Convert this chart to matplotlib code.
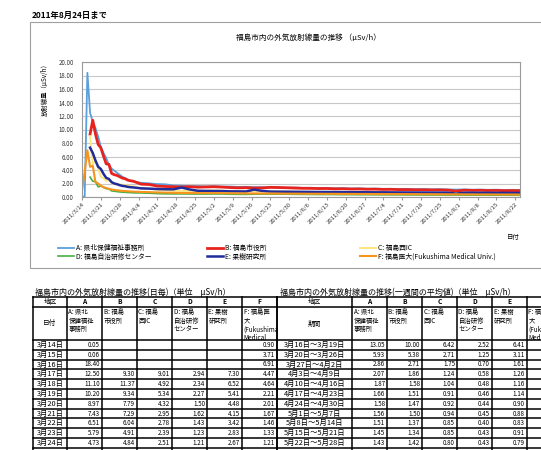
import matplotlib
matplotlib.use("Agg")
import matplotlib.pyplot as plt
import matplotlib.dates as mdates
from matplotlib.patches import Rectangle
from matplotlib.ticker import FuncFormatter, FormatStrFormatter
import numpy as np
import pandas as pd

plt.rcParams['font.family'] = ['Noto Sans CJK JP', 'DejaVu Sans']

W, H = 541, 450

# ---- daily table, 3/14 - 3/24 (also the start of the chart) ----
day_dates = ["3/14", "3/15", "3/16", "3/17", "3/18", "3/19",
             "3/20", "3/21", "3/22", "3/23", "3/24"]
day_labels = ["3月14日", "3月15日", "3月16日", "3月17日", "3月18日", "3月19日",
              "3月20日", "3月21日", "3月22日", "3月23日", "3月24日"]
day_a = [0.05, 0.06, 18.40, 12.50, 11.10, 10.20, 8.97, 7.43, 6.51, 5.79, 4.73]
day_b = [None, None, None, 9.30, 11.37, 9.34, 7.79, 7.29, 6.04, 4.91, 4.84]
day_c = [None, None, None, 9.01, 4.92, 5.34, 4.32, 2.95, 2.78, 2.39, 2.51]
day_d = [None, None, None, 2.94, 2.34, 2.27, 1.50, 1.62, 1.43, 1.23, 1.21]
day_e = [None, None, None, 7.30, 6.52, 5.41, 4.48, 4.15, 3.42, 2.83, 2.67]
day_f = [0.90, 3.71, 6.91, 4.47, 4.64, 2.21, 2.01, 1.67, 1.46, 1.33, 1.21]

# ---- weekly averages table ----
week_labels = ["3月16日～3月19日", "3月20日～3月26日", "3月27日～4月2日",
               "4月3日～4月9日", "4月10日～4月16日", "4月17日～4月23日",
               "4月24日～4月30日", "5月1日～5月7日", "5月8日～5月14日",
               "5月15日～5月21日", "5月22日～5月28日"]
week_a = [13.05, 5.93, 2.86, 2.07, 1.87, 1.66, 1.58, 1.56, 1.51, 1.45, 1.43]
week_b = [10.00, 5.38, 2.71, 1.86, 1.58, 1.51, 1.47, 1.50, 1.37, 1.34, 1.42]
week_c = [6.42, 2.71, 1.75, 1.24, 1.04, 0.91, 0.92, 0.94, 0.85, 0.85, 0.80]
week_d = [2.52, 1.25, 0.70, 0.58, 0.48, 0.46, 0.44, 0.45, 0.40, 0.43, 0.43]
week_e = [6.41, 3.11, 1.61, 1.26, 1.16, 1.14, 0.90, 0.88, 0.83, 0.91, 0.79]

# ---- rest of the chart ----
later_dates = ["3/25", "3/26", "3/27", "3/28", "3/29", "3/30", "3/31", "4/1", "4/2",
               "4/5", "4/8", "4/11", "4/14", "4/17", "4/20", "4/23", "4/26", "4/29",
               "5/2", "5/5", "5/8", "5/11", "5/14", "5/17", "5/20", "5/23", "5/26", "5/29",
               "6/1", "6/4", "6/7", "6/10", "6/13", "6/16", "6/19", "6/22", "6/25", "6/28",
               "7/1", "7/4", "7/7", "7/10", "7/13", "7/16", "7/19", "7/22", "7/25", "7/28", "7/31",
               "8/3", "8/6", "8/9", "8/12", "8/15", "8/18", "8/21", "8/24"]
later_a = [4.20, 3.90, 3.60, 3.30, 3.00, 2.80, 2.60, 2.40, 2.30,
           2.10, 2.02, 1.92, 1.88, 1.70, 1.68, 1.60, 1.62, 1.55,
           1.60, 1.54, 1.55, 1.49, 1.51, 1.45, 1.46, 1.41, 1.44, 1.38,
           1.40, 1.35, 1.37, 1.32, 1.33, 1.29, 1.31, 1.26, 1.28, 1.23,
           1.25, 1.21, 1.22, 1.18, 1.20, 1.16, 1.17, 1.14, 1.16, 1.12, 1.10,
           1.12, 1.08, 1.10, 1.06, 1.08, 1.04, 1.06, 1.03]
later_b = [3.50, 3.30, 3.20, 3.00, 2.80, 2.70, 2.50, 2.40, 2.35,
           1.90, 1.85, 1.62, 1.56, 1.52, 1.48, 1.53, 1.46, 1.49,
           1.52, 1.47, 1.40, 1.36, 1.38, 1.33, 1.35, 1.43, 1.40, 1.37,
           1.33, 1.29, 1.28, 1.25, 1.26, 1.21, 1.22, 1.18, 1.19, 1.15,
           1.16, 1.12, 1.13, 1.09, 1.10, 1.06, 1.07, 1.04, 1.05, 1.02, 0.88,
           1.01, 0.98, 0.99, 0.96, 0.97, 0.94, 0.95, 0.93]
later_c = [2.10, 1.90, 1.95, 1.85, 1.80, 1.75, 1.70, 1.60, 1.60,
           1.25, 1.22, 1.08, 1.02, 0.93, 0.91, 0.90, 0.92, 0.92,
           0.95, 0.93, 0.86, 0.85, 0.84, 0.85, 0.84, 0.81, 0.80, 0.79,
           0.77, 0.76, 0.75, 0.74, 0.73, 0.72, 0.71, 0.70, 0.69, 0.68,
           0.67, 0.66, 0.65, 0.64, 0.63, 0.63, 0.62, 0.61, 0.60, 0.60, 0.59,
           0.58, 0.58, 0.57, 0.56, 0.56, 0.55, 0.55, 0.54]
later_d = [0.90, 0.86, 0.80, 0.75, 0.72, 0.70, 0.67, 0.65, 0.62,
           0.60, 0.56, 0.50, 0.47, 0.46, 0.46, 0.45, 0.44, 0.44,
           0.45, 0.45, 0.41, 0.40, 0.39, 0.43, 0.43, 0.43, 0.42, 0.42,
           0.40, 0.39, 0.38, 0.37, 0.37, 0.36, 0.35, 0.35, 0.34, 0.34,
           0.33, 0.33, 0.32, 0.32, 0.31, 0.31, 0.30, 0.30, 0.30, 0.29, 0.29,
           0.28, 0.28, 0.28, 0.27, 0.27, 0.27, 0.26, 0.26]
later_e = [2.20, 2.00, 1.90, 1.75, 1.65, 1.60, 1.50, 1.45, 1.42,
           1.28, 1.24, 1.18, 1.15, 1.14, 1.40, 1.12, 0.92, 0.90,
           0.89, 0.88, 0.84, 0.83, 0.82, 1.10, 0.90, 0.80, 0.79, 0.78,
           0.77, 0.76, 0.75, 0.74, 0.74, 0.73, 0.72, 0.71, 0.71, 0.70,
           0.69, 0.69, 0.68, 0.67, 0.67, 0.66, 0.66, 0.65, 0.65, 0.64, 0.50,
           0.63, 0.63, 0.62, 0.62, 0.61, 0.61, 0.60, 0.60]
later_f = [1.10, 1.05, 1.00, 0.95, 0.90, 0.88, 0.85, 0.82, 0.80,
           0.75, 0.72, 0.68, 0.65, 0.62, 0.60, 0.59, 0.58, 0.57,
           0.58, 0.57, 0.55, 0.54, 0.53, 0.53, 0.52, 0.52, 0.51, 0.50,
           0.50, 0.49, 0.48, 0.48, 0.47, 0.47, 0.46, 0.46, 0.45, 0.45,
           0.44, 0.44, 0.43, 0.43, 0.42, 0.42, 0.41, 0.41, 0.40, 0.40, 0.40,
           0.39, 0.39, 0.38, 0.38, 0.37, 0.37, 0.37, 0.36]

site_letters = ["A", "B", "C", "D", "E", "F"]
site_names = ["A: 県北保健福祉事務所", "B: 福島市役所", "C: 福島西IC",
              "D: 福島自治研修センター", "E: 果樹研究所",
              "F: 福島医大(Fukushima Medical Univ.)"]
site_heads = ["A: 県北\n保健福祉\n事務所", "B: 福島\n市役所", "C: 福島\n西IC",
              "D: 福島\n自治研修\nセンター", "E: 果樹\n研究所",
              "F: 福島医\n大\n(Fukushima\nMedical"]
site_colors = ["#5AA0DC", "#E8231E", "#FFE680", "#45B045", "#202C9A", "#F7941D"]
site_widths = [1.3, 2.0, 1.4, 1.2, 1.8, 1.5]

fig = plt.figure(figsize=(W / 100, H / 100), dpi=100)

# overlay in pixel coordinates for frame, titles and tables
ov = fig.add_axes([0, 0, 1, 1])
ov.set_xlim(0, W)
ov.set_ylim(H, 0)
ov.axis('off')

ov.text(32, 15, "2011年8月24日まで", fontsize=6, fontweight='bold', ha='left', va='center')
ov.add_patch(Rectangle((30, 22), 530, 246, fill=False, edgecolor='#a0a0a0', lw=0.8))
ov.text(308, 38, "福島市内の外気放射線量の推移 （μSv/h）", fontsize=5.5, ha='center', va='center')
ov.text(45, 88, "放射線量（μSv/h）", rotation=90, fontsize=4.6, ha='center', va='center')
ov.text(520, 237, "日付", fontsize=4.6, ha='right', va='center')

# ---- line chart ----
ax = fig.add_axes([82 / W, 1 - 197 / H, 438 / W, 135 / H])
dates = pd.to_datetime(["2011/" + s for s in day_dates + later_dates])
series = [day_a + later_a, day_b + later_b, day_c + later_c,
          day_d + later_d, day_e + later_e, day_f + later_f]
handles = []
for vals, name, color, lw in zip(series, site_names, site_colors, site_widths):
    h, = ax.plot(dates, np.array(vals, dtype=float), color=color, lw=lw, label=name)
    handles.append(h)

ax.set_xlim(pd.Timestamp("2011-03-14"), pd.Timestamp("2011-08-23 18:00"))
ax.set_ylim(0, 20)
ax.set_yticks(range(0, 21, 2))
ax.yaxis.set_major_formatter(FormatStrFormatter('%.2f'))
ax.set_xticks(pd.date_range("2011-03-14", "2011-08-22", freq="7D"))


def date_fmt(v, pos):
    d = mdates.num2date(v)
    return f"{d.year}/{d.month}/{d.day}"


ax.xaxis.set_major_formatter(FuncFormatter(date_fmt))
ax.tick_params(axis='y', length=0, pad=6, labelsize=4.4, labelcolor='#333333')
ax.tick_params(axis='x', length=2, pad=1.5, labelsize=4.3, labelcolor='#333333', color='#999999')
plt.setp(ax.get_xticklabels(), rotation=45, ha='right', rotation_mode='anchor')
ax.yaxis.grid(True, color='#c8c8c8', lw=0.8)
ax.set_axisbelow(True)
for sp in ax.spines.values():
    sp.set_color('#9a9a9a')
    sp.set_linewidth(0.8)

# legend: one entry per slot, rows A B C / D E F
legend_x = [58, 207, 360, 58, 207, 360]
legend_y = [248, 248, 248, 256.5, 256.5, 256.5]
for i, h in enumerate(handles):
    fig.legend(handles=[h], loc='center left',
               bbox_to_anchor=(legend_x[i] / W, 1 - legend_y[i] / H),
               frameon=False, fontsize=4.9, handlelength=2.3, handletextpad=0.35,
               borderpad=0, borderaxespad=0)

# ---- tables ----
row_top, row_h1, row_h2, row_h = 297, 307, 340, 9.8
n_rows = len(day_labels)
row_edges = [row_top, row_h1, row_h2] + [row_h2 + row_h * (i + 1) for i in range(n_rows + 1)]


def draw_table(x_edges, title, title_x, first_head, labels, columns, label_fs):
    ov.text(title_x, 292, title, fontsize=5.8, ha='left', va='center')
    bottom = row_edges[-1]
    for y in row_edges:
        ov.plot([x_edges[0], x_edges[-1]], [y, y], color='black', lw=1.1)
    for x in x_edges:
        ov.plot([x, x], [row_top, bottom], color='black', lw=1.1)
    c0 = (x_edges[0] + x_edges[1]) / 2
    ov.text(c0, (row_top + row_h1) / 2, "地区", fontsize=4.8, ha='center', va='center')
    ov.text(c0, (row_h1 + row_h2) / 2, first_head, fontsize=4.8, ha='center', va='center')
    for i, (letter, head) in enumerate(zip(site_letters, site_heads)):
        x0, x1 = x_edges[i + 1], min(x_edges[i + 2], W)
        if (x0 + x_edges[i + 2]) / 2 < W:
            ov.text((x0 + x_edges[i + 2]) / 2, (row_top + row_h1) / 2, letter,
                    fontsize=4.8, fontweight='bold', ha='center', va='center')
        t = ov.text(x0 + 1.5, row_h1 + 1.2, head, fontsize=4.6, linespacing=1.08,
                    ha='left', va='top')
        t.set_clip_path(Rectangle((x0, row_h1), x1 - x0, row_h2 - row_h1,
                                  transform=ov.transData))
    for r, lab in enumerate(labels):
        yc = row_h2 + row_h * (r + 0.5)
        ov.text(c0, yc, lab, fontsize=label_fs, ha='center', va='center')
        for c, col in enumerate(columns):
            if col[r] is None:
                continue
            ov.text(x_edges[c + 2] - 2, yc, f"{col[r]:.2f}", fontsize=4.5,
                    ha='right', va='center')


draw_table([33, 67, 102, 137, 172, 207, 242, 277],
           "福島市内の外気放射線量の推移(日毎)（単位　μSv/h）", 35, "日付",
           day_labels, [day_a, day_b, day_c, day_d, day_e, day_f], 5.3)
draw_table([277, 352, 387, 422, 457, 492, 527, 562],
           "福島市内の外気放射線量の推移(一週間の平均値)（単位　μSv/h）", 280, "期間",
           week_labels, [week_a, week_b, week_c, week_d, week_e], 5.3)

fig.savefig("out.png", dpi=100)
